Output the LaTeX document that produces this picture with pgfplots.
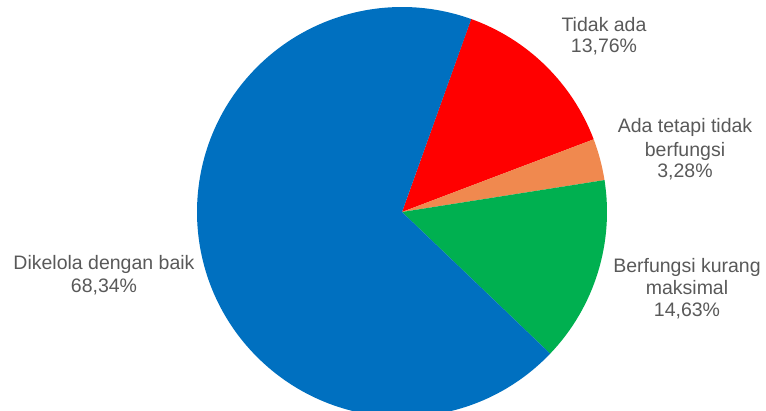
\documentclass[border=0pt]{standalone}
\usepackage{pgfplots}
\pgfplotsset{compat=1.18}
\usepackage{fontspec}
\setmainfont{Liberation Sans}
\definecolor{cBlue}{HTML}{0070C0}
\definecolor{cRed}{HTML}{FF0000}
\definecolor{cOrange}{HTML}{F0894F}
\definecolor{cGreen}{HTML}{00B050}
\definecolor{cText}{HTML}{595959}
\begin{document}
\begin{tikzpicture}
\useasboundingbox (0,0) rectangle (766pt,410pt);
% data (percent)
\def\vTidak{13.76}
\def\vAda{3.28}
\def\vKurang{14.63}
\def\vBaik{68.34}
\pgfmathsetmacro\aA{70.3}
\pgfmathsetmacro\aB{\aA-\vTidak*3.6}
\pgfmathsetmacro\aC{\aB-\vAda*3.6}
\pgfmathsetmacro\aD{\aC-\vKurang*3.6}
\pgfmathsetmacro\aE{\aD-\vBaik*3.6}
\begin{axis}[
  scale only axis, width=766pt, height=410pt,
  xmin=0, xmax=766, ymin=0, ymax=410,
  hide axis, clip=true, anchor=south west, at={(0,0)},
]
\fill[cRed] (axis cs:402,198) -- ++(\aA:205pt) arc[start angle=\aA, end angle=\aB, radius=205pt] -- cycle;
\fill[cOrange] (axis cs:402,198) -- ++(\aB:205pt) arc[start angle=\aB, end angle=\aC, radius=205pt] -- cycle;
\fill[cGreen] (axis cs:402,198) -- ++(\aC:205pt) arc[start angle=\aC, end angle=\aD, radius=205pt] -- cycle;
\fill[cBlue] (axis cs:402,198) -- ++(\aD:205pt) arc[start angle=\aD, end angle=\aE, radius=205pt] -- cycle;
\begin{scope}[every node/.style={anchor=base, text=cText, font=\fontsize{19.5}{22.5}\selectfont, inner sep=0pt}]
\node at (axis cs:604,378) {Tidak ada};
\node at (axis cs:604,357) {13,76\%};
\node at (axis cs:685,277) {Ada tetapi tidak};
\node at (axis cs:685,253) {berfungsi};
\node at (axis cs:685,232) {3,28\%};
\node at (axis cs:687,137) {Berfungsi kurang};
\node at (axis cs:687,115) {maksimal};
\node at (axis cs:687,93) {14,63\%};
\node at (axis cs:104,140) {Dikelola dengan baik};
\node at (axis cs:104,117) {68,34\%};
\end{scope}
\end{axis}
\end{tikzpicture}
\end{document}
